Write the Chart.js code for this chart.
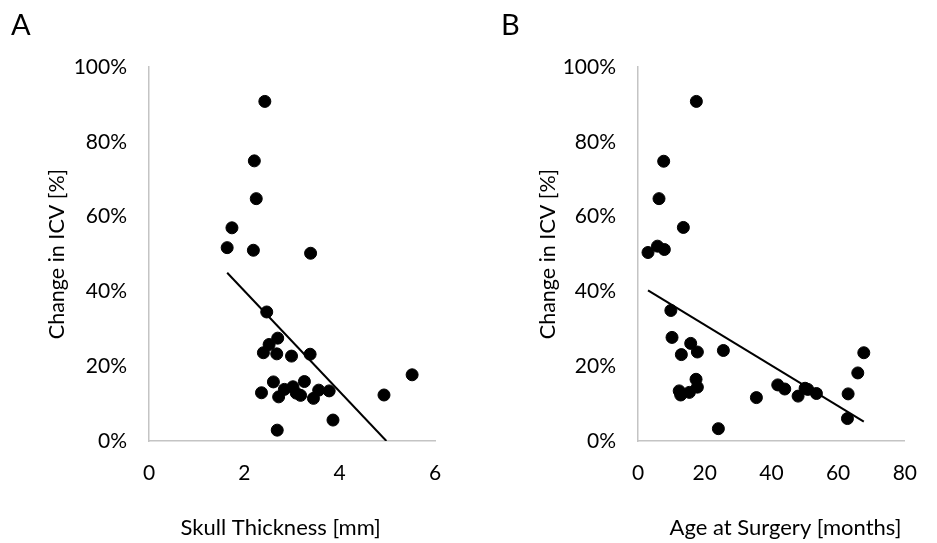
<!DOCTYPE html>
<html>
<head>
<meta charset="utf-8">
<script src="https://cdn.jsdelivr.net/npm/chart.js@4.4.1/dist/chart.umd.min.js"></script>
<style>
  body { margin: 0; background: #fff; }
  #wrap { position: relative; width: 937px; height: 543px; overflow: hidden; }
  canvas { position: absolute; top: 0; }
  .panel { position: absolute; top: 6px; font-family: Lato, sans-serif; font-size: 29px; color: #000; }
</style>
</head>
<body>
<div id="wrap">
  <canvas id="chartA" width="468" height="543" style="left:0"></canvas>
  <canvas id="chartB" width="469" height="543" style="left:468px"></canvas>
  <div class="panel" style="left:11px">A</div>
  <div class="panel" style="left:501px">B</div>
</div>
<script>
// panel A: skull thickness vs change in ICV
const thicknessMm = [2.43, 2.21, 2.25, 1.74, 1.64, 2.19, 3.39, 2.47, 2.70, 2.52, 2.40, 2.68, 2.99, 3.38, 5.52,
    2.61, 3.26, 2.36, 2.84, 3.02, 3.09, 3.18, 2.72, 3.45, 3.56, 3.78, 4.93, 3.86, 2.69];
const icvA = [90.8, 74.9, 64.8, 57.0, 51.7, 51.0, 50.2, 34.5, 27.5, 25.8, 23.6, 23.3, 22.7, 23.2, 17.7,
    15.8, 15.9, 12.9, 13.8, 14.5, 12.8, 12.2, 11.8, 11.4, 13.6, 13.4, 12.3, 5.6, 2.9];
const trendAX = [1.64, 4.98];
const trendAY = [45.0, 0];

// panel B: age at surgery vs change in ICV
const ageMonths = [17.5, 7.7, 6.3, 13.6, 5.85, 7.9, 3.0, 9.85, 10.2, 15.8, 13.0, 17.8, 25.6, 67.7, 65.9,
    17.4, 17.8, 12.35, 12.8, 15.4, 41.9, 44.0, 50.1, 50.9, 48.0, 53.5, 35.5, 63.0, 62.8, 24.1];
const icvB = [90.8, 74.8, 64.8, 57.1, 52.1, 51.2, 50.4, 34.9, 27.7, 26.1, 23.1, 23.8, 24.2, 23.6, 18.2,
    16.5, 14.4, 13.4, 12.3, 13.0, 15.0, 13.9, 14.1, 13.8, 12.0, 12.7, 11.6, 12.6, 6.0, 3.3];
const trendBX = [3.0, 67.7];
const trendBY = [40.3, 5.2];

const icvTicks = [0, 20, 40, 60, 80, 100];
const thicknessTicks = [0, 2, 4, 6];
const ageTicks = [0, 20, 40, 60, 80];

const FONT = { family: 'Lato, sans-serif', size: 21 };
const TITLE_FONT = { family: 'Lato, sans-serif', size: 22 };
const AXIS_GREY = '#c4c4c4';
const TEXT = '#000';

function toPoints(xs, ys) {
    return xs.map((x, i) => ({ x: x, y: ys[i] }));
}

function makeChart(id, opts) {
    const ctx = document.getElementById(id).getContext('2d');
    return new Chart(ctx, {
        type: 'scatter',
        data: {
            datasets: [
                {
                    data: toPoints(opts.xs, opts.ys),
                    backgroundColor: '#000',
                    borderColor: '#000',
                    pointRadius: 6,
                    pointHoverRadius: 6
                },
                {
                    data: toPoints(opts.trendX, opts.trendY),
                    showLine: true,
                    borderColor: '#000',
                    borderWidth: 2,
                    pointRadius: 0,
                    fill: false
                }
            ]
        },
        options: {
            responsive: false,
            animation: false,
            layout: { padding: { top: 67, right: opts.padRight, left: 0, bottom: 0 } },
            plugins: { legend: { display: false }, tooltip: { enabled: false } },
            scales: {
                x: {
                    type: 'linear',
                    min: opts.xTicks[0],
                    max: opts.xTicks[opts.xTicks.length - 1],
                    ticks: { stepSize: opts.xTicks[1] - opts.xTicks[0], padding: 20, color: TEXT, font: FONT, maxRotation: 0 },
                    grid: { display: false, drawTicks: false },
                    border: { display: true, color: AXIS_GREY, width: 1.5 },
                    // spaces nudge the centred title the way the original sits
                    title: { display: true, text: opts.xTitle, color: TEXT, font: TITLE_FONT, padding: { top: 0, bottom: 2 } },
                    afterFit: s => { s.height = 102; }
                },
                y: {
                    min: icvTicks[0],
                    max: icvTicks[icvTicks.length - 1],
                    ticks: { stepSize: 20, padding: 22, color: TEXT, font: FONT, callback: v => v + '%' },
                    grid: { display: false, drawTicks: false },
                    border: { display: true, color: AXIS_GREY, width: 1.5 },
                    title: { display: true, text: 'Change in ICV [%]', color: TEXT, font: { family: 'Lato, sans-serif', size: 21.5 }, padding: { top: opts.titleOffset, bottom: 0 } },
                    afterFit: s => { s.width = opts.yWidth; }
                }
            }
        }
    });
}

makeChart('chartA', {
    xs: thicknessMm, ys: icvA, trendX: trendAX, trendY: trendAY,
    xTicks: thicknessTicks, xTitle: 'Skull Thickness [mm]    ',
    yWidth: 149, padRight: 33, titleOffset: 44
});

makeChart('chartB', {
    xs: ageMonths, ys: icvB, trendX: trendBX, trendY: trendBY,
    xTicks: ageTicks, xTitle: '     Age at Surgery [months]',
    yWidth: 170, padRight: 12, titleOffset: 67
});
</script>
</body>
</html>
